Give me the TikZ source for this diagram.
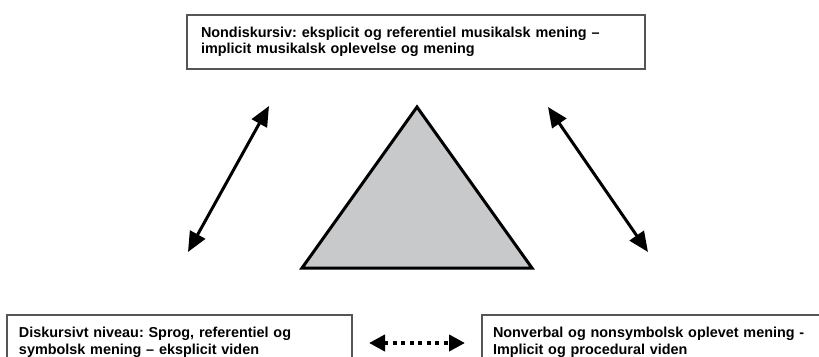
\documentclass[tikz,border=0pt]{standalone}
\usepackage{fontspec}
\setmainfont{Liberation Sans}
\usetikzlibrary{arrows.meta}
\definecolor{boxline}{RGB}{85,85,85}
\definecolor{trifill}{RGB}{200,201,203}
\tikzset{
  textbox/.style={draw=boxline, line width=1.5pt, anchor=north west, align=left,
    font=\fontsize{14.4}{16.5}\selectfont\bfseries\frenchspacing, inner ysep=0pt, outer sep=0pt},
  bigarrow/.style={line width=3pt, {Triangle[length=20pt,width=17pt]}-{Triangle[length=20pt,width=17pt]}},
  dotarrow/.style={line width=4pt, dash pattern=on 4pt off 4.5pt,
    {Triangle[length=16pt,width=16pt]}-{Triangle[length=16pt,width=16pt]}}
}
\begin{document}
\begin{tikzpicture}[x=1pt,y=-1pt]
\useasboundingbox (0,0) rectangle (819,356);
% top box
\node[textbox, text width=430pt, minimum height=54pt, inner xsep=14pt, text depth=27pt] (top) at (187,15)
  {\rule{0pt}{18pt}Nondiskursiv: eksplicit og referentiel musikalsk mening –\\implicit musikalsk oplevelse og mening};
% bottom boxes
\node[textbox, text width=321pt, minimum height=80pt, inner xsep=12pt, text depth=50pt] (left) at (7,315)
  {\rule{0pt}{15.5pt}Diskursivt niveau: Sprog, referentiel og\\symbolsk mening – eksplicit viden};
\node[textbox, text width=340pt, minimum height=80pt, inner xsep=11pt, text depth=50pt] (right) at (482,315)
  {\rule{0pt}{15.5pt}Nonverbal og nonsymbolsk oplevet mening -\\Implicit og procedural viden};
% triangle
\coordinate (apex) at (417,107);
\coordinate (bl) at (302,268);
\coordinate (br) at (532,268);
\draw[line width=3pt, fill=trifill, line join=miter] (apex) -- (bl) -- (br) -- cycle;
% arrows
\coordinate (la) at (188,252);
\coordinate (lb) at (269,106);
\coordinate (ra) at (548,107);
\coordinate (rb) at (648,252);
\draw[bigarrow] (la) -- (lb);
\draw[bigarrow] (ra) -- (rb);
\coordinate (da) at (369,343);
\coordinate (db) at (465,343);
\draw[dotarrow] (da) -- (db);
\end{tikzpicture}
\end{document}
